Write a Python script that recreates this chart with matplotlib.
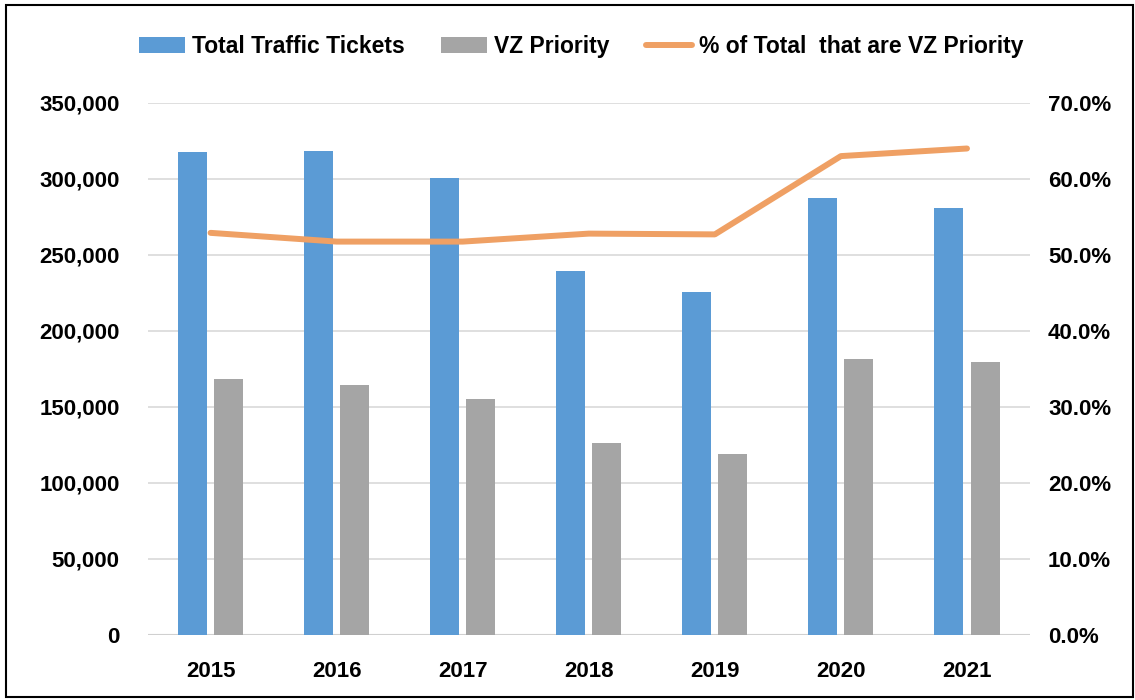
import matplotlib
matplotlib.use("Agg")
import matplotlib.pyplot as plt
import numpy as np
from matplotlib.patches import Rectangle
from matplotlib.ticker import FuncFormatter

plt.rcParams['font.family'] = ['Liberation Sans Narrow', 'Liberation Sans', 'DejaVu Sans']
plt.rcParams['font.weight'] = 'bold'

years = ['2015', '2016', '2017', '2018', '2019', '2020', '2021']
total_tickets = [317600, 318600, 300900, 239300, 225500, 287700, 280700]
vz_priority = [168400, 164700, 155300, 126100, 119100, 181400, 179800]
pct_vz = [52.9, 51.75, 51.75, 52.8, 52.7, 63.0, 64.0]

blue = '#5B9BD5'
gray = '#A5A5A5'
orange = '#EFA064'

fig = plt.figure(figsize=(11.35, 7), dpi=100)
ax = fig.add_axes([0.130, 0.093, 0.7775, 0.760])
ax2 = ax.twinx()

x = np.arange(len(years))
bw = 0.23
off = 0.143
b1 = ax.bar(x - off, total_tickets, bw, color=blue, label='Total Traffic Tickets', zorder=3)
b2 = ax.bar(x + off, vz_priority, bw, color=gray, label='VZ Priority', zorder=3)
ln, = ax2.plot(x, pct_vz, color=orange, lw=4.3, solid_capstyle='round',
               label='% of Total  that are VZ Priority', zorder=4)

ax.set_xlim(-0.5, len(years) - 0.5)
ax.set_ylim(0, 350000)
ax2.set_ylim(0, 70)
ax.set_yticks(np.arange(0, 350001, 50000))
ax2.set_yticks(np.arange(0, 70.1, 10))
ax.yaxis.set_major_formatter(FuncFormatter(lambda v, p: f'{int(v):,}'))
ax2.yaxis.set_major_formatter(FuncFormatter(lambda v, p: f'{v:.1f}%'))
ax.set_xticks(x)
ax.set_xticklabels(years)

ax.grid(axis='y', color='#D9D9D9', lw=1.2, zorder=0)
ax.set_axisbelow(True)
for a in (ax, ax2):
    for s in ('top', 'left', 'right', 'bottom'):
        a.spines[s].set_visible(False)
ax.axhline(0, color='#D0D0D0', lw=1.5, zorder=2)

ax.tick_params(axis='y', length=0, pad=20, labelsize=16)
ax.tick_params(axis='x', length=0, pad=19, labelsize=16)
ax2.tick_params(axis='y', length=0, pad=13, labelsize=16)
ax2.set_zorder(ax.get_zorder() + 1)
ax2.patch.set_visible(False)

fig.legend(handles=[b1, b2, ln], loc='center', bbox_to_anchor=(0.512, 0.933),
           ncol=3, frameon=False, fontsize=16.5, handlelength=2.0,
           handletextpad=0.3, columnspacing=1.6)

fig.patches.append(Rectangle((0.005, 0.005), 0.993, 0.988, transform=fig.transFigure,
                             fill=False, edgecolor='black', lw=1.5))

fig.savefig('out.png', dpi=100)
